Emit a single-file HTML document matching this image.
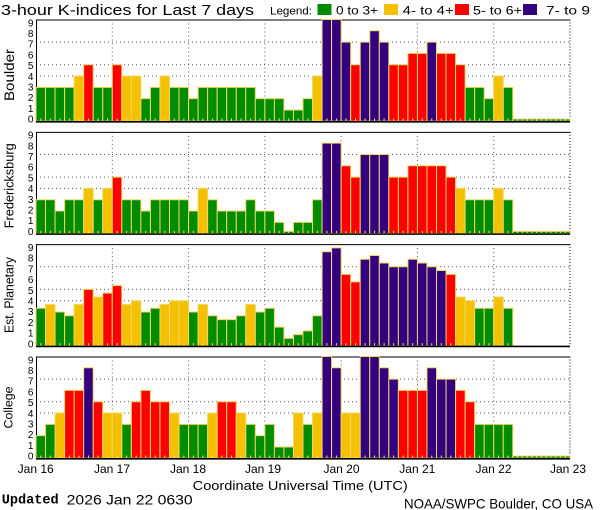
<!DOCTYPE html>
<html><head><meta charset="utf-8"><style>
html,body{margin:0;padding:0;background:#fff;}
svg{display:block;font-family:"Liberation Sans",sans-serif;}
.b rect{stroke:#f0d860;stroke-width:1;vector-effect:non-scaling-stroke;}
.g{fill:#008c00}.y{fill:#f5c000}.r{fill:#ff0000}.p{fill:#330080}
.d{font-size:10px;text-anchor:middle;fill:#000}
.gr{stroke:#555;stroke-width:1;stroke-dasharray:1 3;fill:none}
</style></head><body>
<svg width="600" height="510" viewBox="0 0 600 510" xmlns="http://www.w3.org/2000/svg">
<defs>
<pattern id="tk" patternUnits="userSpaceOnUse" x="36" y="0" width="9.536" height="3"><rect x="4.3" y="0" width="1" height="3" fill="#f0e68c"/></pattern>
</defs>
<rect width="600" height="510" fill="#fff"/>
<text x="1" y="15" font-size="14.5" textLength="253" lengthAdjust="spacingAndGlyphs">3-hour K-indices for Last 7 days</text>
<text x="270" y="14.7" font-size="11" textLength="42" lengthAdjust="spacingAndGlyphs">Legend:</text>
<rect x="317.5" y="4" width="14" height="11" class="g"/>
<text x="336" y="14.7" font-size="11.5" textLength="42" lengthAdjust="spacingAndGlyphs">0 to 3+</text>
<rect x="384" y="4" width="14" height="11" class="y"/>
<text x="402.7" y="14.7" font-size="11.5" textLength="51" lengthAdjust="spacingAndGlyphs">4- to 4+</text>
<rect x="455" y="4" width="14" height="11" class="r"/>
<text x="473" y="14.7" font-size="11.5" textLength="49" lengthAdjust="spacingAndGlyphs">5- to 6+</text>
<rect x="523" y="4" width="14" height="11" class="p"/>
<text x="546" y="14.7" font-size="11.5" textLength="44" lengthAdjust="spacingAndGlyphs">7- to 9</text>

<!-- Panel 1 Boulder -->
<g transform="translate(0,19.5)">
<path class="gr" d="M36 22.62H570M36 45.24H570M36 56.56H570"/>
<path class="gr" d="M112.29 0V101.8M188.58 0V101.8M264.87 0V101.8M341.16 0V101.8M417.45 0V101.8M493.74 0V101.8"/>
<path d="M570 0V101.8" stroke="#000" stroke-width="1" stroke-dasharray="1 2"/>
<path d="M36 0.5H570M36.5 0V101.8" stroke="#000" stroke-width="1"/>
<g class="b" transform="translate(36,101.8) scale(9.536,-11.311)">
<rect x="0" width="1" height="3" class="g"/><rect x="1" width="1" height="3" class="g"/><rect x="2" width="1" height="3" class="g"/><rect x="3" width="1" height="3" class="g"/><rect x="4" width="1" height="4" class="y"/><rect x="5" width="1" height="5" class="r"/><rect x="6" width="1" height="3" class="g"/><rect x="7" width="1" height="3" class="g"/>
<rect x="8" width="1" height="5" class="r"/><rect x="9" width="1" height="4" class="y"/><rect x="10" width="1" height="4" class="y"/><rect x="11" width="1" height="2" class="g"/><rect x="12" width="1" height="3" class="g"/><rect x="13" width="1" height="4" class="y"/><rect x="14" width="1" height="3" class="g"/><rect x="15" width="1" height="3" class="g"/>
<rect x="16" width="1" height="2" class="g"/><rect x="17" width="1" height="3" class="g"/><rect x="18" width="1" height="3" class="g"/><rect x="19" width="1" height="3" class="g"/><rect x="20" width="1" height="3" class="g"/><rect x="21" width="1" height="3" class="g"/><rect x="22" width="1" height="3" class="g"/><rect x="23" width="1" height="2" class="g"/>
<rect x="24" width="1" height="2" class="g"/><rect x="25" width="1" height="2" class="g"/><rect x="26" width="1" height="1" class="g"/><rect x="27" width="1" height="1" class="g"/><rect x="28" width="1" height="2" class="g"/><rect x="29" width="1" height="4" class="y"/><rect x="30" width="1" height="9" class="p"/><rect x="31" width="1" height="9" class="p"/>
<rect x="32" width="1" height="7" class="p"/><rect x="33" width="1" height="5" class="r"/><rect x="34" width="1" height="7" class="p"/><rect x="35" width="1" height="8" class="p"/><rect x="36" width="1" height="7" class="p"/><rect x="37" width="1" height="5" class="r"/><rect x="38" width="1" height="5" class="r"/><rect x="39" width="1" height="6" class="r"/>
<rect x="40" width="1" height="6" class="r"/><rect x="41" width="1" height="7" class="p"/><rect x="42" width="1" height="6" class="r"/><rect x="43" width="1" height="6" class="r"/><rect x="44" width="1" height="5" class="r"/><rect x="45" width="1" height="3" class="g"/><rect x="46" width="1" height="3" class="g"/><rect x="47" width="1" height="2" class="g"/>
<rect x="48" width="1" height="4" class="y"/><rect x="49" width="1" height="3" class="g"/><rect x="50" width="1" height="0.2" class="g"/><rect x="51" width="1" height="0.2" class="g"/><rect x="52" width="1" height="0.2" class="g"/><rect x="53" width="1" height="0.2" class="g"/><rect x="54" width="1" height="0.2" class="g"/><rect x="55" width="1" height="0.2" class="g"/>
</g>
<rect x="36" y="99" width="534" height="2.5" fill="url(#tk)"/>
<path d="M36 102.3H570" stroke="#000" stroke-width="1.6"/>
<text class="d" x="30.7" y="103.1">0</text><text class="d" x="30.7" y="92.4">1</text><text class="d" x="30.7" y="81.7">2</text><text class="d" x="30.7" y="71">3</text><text class="d" x="30.7" y="60.3">4</text><text class="d" x="30.7" y="49.6">5</text><text class="d" x="30.7" y="38.9">6</text><text class="d" x="30.7" y="28.2">7</text><text class="d" x="30.7" y="17.5">8</text><text class="d" x="30.7" y="6.8">9</text>
</g>
<text transform="translate(14,75) rotate(-90)" font-size="14" text-anchor="middle" textLength="52" lengthAdjust="spacingAndGlyphs">Boulder</text>

<!-- Panel 2 Fredericksburg -->
<g transform="translate(0,131.83)">
<path class="gr" d="M36 22.62H570M36 45.24H570M36 56.56H570"/>
<path class="gr" d="M112.29 0V101.8M188.58 0V101.8M264.87 0V101.8M341.16 0V101.8M417.45 0V101.8M493.74 0V101.8"/>
<path d="M570 0V101.8" stroke="#000" stroke-width="1" stroke-dasharray="1 2"/>
<path d="M36 0.5H570M36.5 0V101.8" stroke="#000" stroke-width="1"/>
<g class="b" transform="translate(36,101.8) scale(9.536,-11.311)">
<rect x="0" width="1" height="3" class="g"/><rect x="1" width="1" height="3" class="g"/><rect x="2" width="1" height="2" class="g"/><rect x="3" width="1" height="3" class="g"/><rect x="4" width="1" height="3" class="g"/><rect x="5" width="1" height="4" class="y"/><rect x="6" width="1" height="3" class="g"/><rect x="7" width="1" height="4" class="y"/>
<rect x="8" width="1" height="5" class="r"/><rect x="9" width="1" height="3" class="g"/><rect x="10" width="1" height="3" class="g"/><rect x="11" width="1" height="2" class="g"/><rect x="12" width="1" height="3" class="g"/><rect x="13" width="1" height="3" class="g"/><rect x="14" width="1" height="3" class="g"/><rect x="15" width="1" height="3" class="g"/>
<rect x="16" width="1" height="2" class="g"/><rect x="17" width="1" height="4" class="y"/><rect x="18" width="1" height="3" class="g"/><rect x="19" width="1" height="2" class="g"/><rect x="20" width="1" height="2" class="g"/><rect x="21" width="1" height="2" class="g"/><rect x="22" width="1" height="3" class="g"/><rect x="23" width="1" height="2" class="g"/>
<rect x="24" width="1" height="2" class="g"/><rect x="25" width="1" height="1" class="g"/><rect x="26" width="1" height="0.2" class="g"/><rect x="27" width="1" height="1" class="g"/><rect x="28" width="1" height="1" class="g"/><rect x="29" width="1" height="3" class="g"/><rect x="30" width="1" height="8" class="p"/><rect x="31" width="1" height="8" class="p"/>
<rect x="32" width="1" height="6" class="r"/><rect x="33" width="1" height="5" class="r"/><rect x="34" width="1" height="7" class="p"/><rect x="35" width="1" height="7" class="p"/><rect x="36" width="1" height="7" class="p"/><rect x="37" width="1" height="5" class="r"/><rect x="38" width="1" height="5" class="r"/><rect x="39" width="1" height="6" class="r"/>
<rect x="40" width="1" height="6" class="r"/><rect x="41" width="1" height="6" class="r"/><rect x="42" width="1" height="6" class="r"/><rect x="43" width="1" height="5" class="r"/><rect x="44" width="1" height="4" class="y"/><rect x="45" width="1" height="3" class="g"/><rect x="46" width="1" height="3" class="g"/><rect x="47" width="1" height="3" class="g"/>
<rect x="48" width="1" height="4" class="y"/><rect x="49" width="1" height="3" class="g"/><rect x="50" width="1" height="0.2" class="g"/><rect x="51" width="1" height="0.2" class="g"/><rect x="52" width="1" height="0.2" class="g"/><rect x="53" width="1" height="0.2" class="g"/><rect x="54" width="1" height="0.2" class="g"/><rect x="55" width="1" height="0.2" class="g"/>
</g>
<rect x="36" y="99" width="534" height="2.5" fill="url(#tk)"/>
<path d="M36 102.3H570" stroke="#000" stroke-width="1.6"/>
<text class="d" x="30.7" y="103.1">0</text><text class="d" x="30.7" y="92.4">1</text><text class="d" x="30.7" y="81.7">2</text><text class="d" x="30.7" y="71">3</text><text class="d" x="30.7" y="60.3">4</text><text class="d" x="30.7" y="49.6">5</text><text class="d" x="30.7" y="38.9">6</text><text class="d" x="30.7" y="28.2">7</text><text class="d" x="30.7" y="17.5">8</text><text class="d" x="30.7" y="6.8">9</text>
</g>
<text transform="translate(13.5,185.8) rotate(-90)" font-size="12.5" text-anchor="middle" textLength="85" lengthAdjust="spacingAndGlyphs">Fredericksburg</text>

<!-- Panel 3 Est. Planetary -->
<g transform="translate(0,244.16)">
<path class="gr" d="M36 22.62H570M36 45.24H570M36 56.56H570"/>
<path class="gr" d="M112.29 0V101.8M188.58 0V101.8M264.87 0V101.8M341.16 0V101.8M417.45 0V101.8M493.74 0V101.8"/>
<path d="M570 0V101.8" stroke="#000" stroke-width="1" stroke-dasharray="1 2"/>
<path d="M36 0.5H570M36.5 0V101.8" stroke="#000" stroke-width="1"/>
<g class="b" transform="translate(36,101.8) scale(9.536,-11.311)">
<rect x="0" width="1" height="3.33" class="g"/><rect x="1" width="1" height="3.67" class="y"/><rect x="2" width="1" height="3" class="g"/><rect x="3" width="1" height="2.67" class="g"/><rect x="4" width="1" height="3.67" class="y"/><rect x="5" width="1" height="5" class="r"/><rect x="6" width="1" height="4.33" class="y"/><rect x="7" width="1" height="4.67" class="r"/>
<rect x="8" width="1" height="5.33" class="r"/><rect x="9" width="1" height="3.67" class="y"/><rect x="10" width="1" height="4" class="y"/><rect x="11" width="1" height="3" class="g"/><rect x="12" width="1" height="3.33" class="g"/><rect x="13" width="1" height="3.67" class="y"/><rect x="14" width="1" height="4" class="y"/><rect x="15" width="1" height="4" class="y"/>
<rect x="16" width="1" height="3" class="g"/><rect x="17" width="1" height="3.67" class="y"/><rect x="18" width="1" height="2.67" class="g"/><rect x="19" width="1" height="2.33" class="g"/><rect x="20" width="1" height="2.33" class="g"/><rect x="21" width="1" height="2.67" class="g"/><rect x="22" width="1" height="3.67" class="y"/><rect x="23" width="1" height="3" class="g"/>
<rect x="24" width="1" height="3.33" class="g"/><rect x="25" width="1" height="1.67" class="g"/><rect x="26" width="1" height="0.67" class="g"/><rect x="27" width="1" height="1" class="g"/><rect x="28" width="1" height="1.33" class="g"/><rect x="29" width="1" height="2.67" class="g"/><rect x="30" width="1" height="8.33" class="p"/><rect x="31" width="1" height="8.67" class="p"/>
<rect x="32" width="1" height="6.33" class="r"/><rect x="33" width="1" height="5.67" class="r"/><rect x="34" width="1" height="7.67" class="p"/><rect x="35" width="1" height="8" class="p"/><rect x="36" width="1" height="7.33" class="p"/><rect x="37" width="1" height="7" class="p"/><rect x="38" width="1" height="7" class="p"/><rect x="39" width="1" height="7.67" class="p"/>
<rect x="40" width="1" height="7.33" class="p"/><rect x="41" width="1" height="7" class="p"/><rect x="42" width="1" height="6.67" class="p"/><rect x="43" width="1" height="6.33" class="r"/><rect x="44" width="1" height="4.33" class="y"/><rect x="45" width="1" height="4" class="y"/><rect x="46" width="1" height="3.33" class="g"/><rect x="47" width="1" height="3.33" class="g"/>
<rect x="48" width="1" height="4.33" class="y"/><rect x="49" width="1" height="3.33" class="g"/>
</g>
<rect x="36" y="99" width="477" height="2.5" fill="url(#tk)"/>
<path d="M36 102.3H570" stroke="#000" stroke-width="1.6"/>
<text class="d" x="30.7" y="103.1">0</text><text class="d" x="30.7" y="92.4">1</text><text class="d" x="30.7" y="81.7">2</text><text class="d" x="30.7" y="71">3</text><text class="d" x="30.7" y="60.3">4</text><text class="d" x="30.7" y="49.6">5</text><text class="d" x="30.7" y="38.9">6</text><text class="d" x="30.7" y="28.2">7</text><text class="d" x="30.7" y="17.5">8</text><text class="d" x="30.7" y="6.8">9</text>
</g>
<text transform="translate(13.5,295) rotate(-90)" font-size="12.5" text-anchor="middle" textLength="76" lengthAdjust="spacingAndGlyphs">Est. Planetary</text>

<!-- Panel 4 College -->
<g transform="translate(0,356.49)">
<path class="gr" d="M36 22.62H570M36 45.24H570M36 56.56H570"/>
<path class="gr" d="M112.29 0V101.8M188.58 0V101.8M264.87 0V101.8M341.16 0V101.8M417.45 0V101.8M493.74 0V101.8"/>
<path d="M570 0V101.8" stroke="#000" stroke-width="1" stroke-dasharray="1 2"/>
<path d="M36 0.5H570M36.5 0V101.8" stroke="#000" stroke-width="1"/>
<g class="b" transform="translate(36,101.8) scale(9.536,-11.311)">
<rect x="0" width="1" height="2" class="g"/><rect x="1" width="1" height="3" class="g"/><rect x="2" width="1" height="4" class="y"/><rect x="3" width="1" height="6" class="r"/><rect x="4" width="1" height="6" class="r"/><rect x="5" width="1" height="8" class="p"/><rect x="6" width="1" height="5" class="r"/><rect x="7" width="1" height="4" class="y"/>
<rect x="8" width="1" height="4" class="y"/><rect x="9" width="1" height="3" class="g"/><rect x="10" width="1" height="5" class="r"/><rect x="11" width="1" height="6" class="r"/><rect x="12" width="1" height="5" class="r"/><rect x="13" width="1" height="5" class="r"/><rect x="14" width="1" height="4" class="y"/><rect x="15" width="1" height="3" class="g"/>
<rect x="16" width="1" height="3" class="g"/><rect x="17" width="1" height="3" class="g"/><rect x="18" width="1" height="4" class="y"/><rect x="19" width="1" height="5" class="r"/><rect x="20" width="1" height="5" class="r"/><rect x="21" width="1" height="4" class="y"/><rect x="22" width="1" height="3" class="g"/><rect x="23" width="1" height="2" class="g"/>
<rect x="24" width="1" height="3" class="g"/><rect x="25" width="1" height="1" class="g"/><rect x="26" width="1" height="1" class="g"/><rect x="27" width="1" height="4" class="y"/><rect x="28" width="1" height="3" class="g"/><rect x="29" width="1" height="4" class="y"/><rect x="30" width="1" height="9" class="p"/><rect x="31" width="1" height="8" class="p"/>
<rect x="32" width="1" height="4" class="y"/><rect x="33" width="1" height="4" class="y"/><rect x="34" width="1" height="9" class="p"/><rect x="35" width="1" height="9" class="p"/><rect x="36" width="1" height="8" class="p"/><rect x="37" width="1" height="7" class="p"/><rect x="38" width="1" height="6" class="r"/><rect x="39" width="1" height="6" class="r"/>
<rect x="40" width="1" height="6" class="r"/><rect x="41" width="1" height="8" class="p"/><rect x="42" width="1" height="7" class="p"/><rect x="43" width="1" height="7" class="p"/><rect x="44" width="1" height="6" class="r"/><rect x="45" width="1" height="5" class="r"/><rect x="46" width="1" height="3" class="g"/><rect x="47" width="1" height="3" class="g"/>
<rect x="48" width="1" height="3" class="g"/><rect x="49" width="1" height="3" class="g"/><rect x="50" width="1" height="0.2" class="g"/><rect x="51" width="1" height="0.2" class="g"/><rect x="52" width="1" height="0.2" class="g"/><rect x="53" width="1" height="0.2" class="g"/><rect x="54" width="1" height="0.2" class="g"/><rect x="55" width="1" height="0.2" class="g"/>
</g>
<rect x="36" y="99" width="534" height="2.5" fill="url(#tk)"/>
<path d="M36 102.3H570" stroke="#000" stroke-width="1.6"/>
<text class="d" x="30.7" y="103.1">0</text><text class="d" x="30.7" y="92.4">1</text><text class="d" x="30.7" y="81.7">2</text><text class="d" x="30.7" y="71">3</text><text class="d" x="30.7" y="60.3">4</text><text class="d" x="30.7" y="49.6">5</text><text class="d" x="30.7" y="38.9">6</text><text class="d" x="30.7" y="28.2">7</text><text class="d" x="30.7" y="17.5">8</text><text class="d" x="30.7" y="6.8">9</text>
</g>
<text transform="translate(12.5,407.5) rotate(-90)" font-size="11.5" text-anchor="middle" textLength="42" lengthAdjust="spacingAndGlyphs">College</text>

<!-- x-axis labels -->
<g font-size="12" text-anchor="middle">
<text x="35.7" y="473">Jan 16</text>
<text x="112" y="473">Jan 17</text>
<text x="188" y="473">Jan 18</text>
<text x="263" y="473">Jan 19</text>
<text x="341.5" y="473">Jan 20</text>
<text x="417.3" y="473">Jan 21</text>
<text x="493.5" y="473">Jan 22</text>
<text x="568" y="473">Jan 23</text>
</g>
<text x="192.7" y="490" font-size="13" textLength="215" lengthAdjust="spacingAndGlyphs">Coordinate Universal Time (UTC)</text>
<text x="1.7" y="503.5" font-size="14" font-weight="bold" font-family="Liberation Mono, monospace" textLength="57" lengthAdjust="spacingAndGlyphs">Updated</text>
<text x="66.7" y="504.5" font-size="14" textLength="126" lengthAdjust="spacingAndGlyphs">2026 Jan 22 0630</text>
<text x="404" y="508.3" font-size="14" textLength="189" lengthAdjust="spacingAndGlyphs">NOAA/SWPC Boulder, CO USA</text>
</svg>
</body></html>
